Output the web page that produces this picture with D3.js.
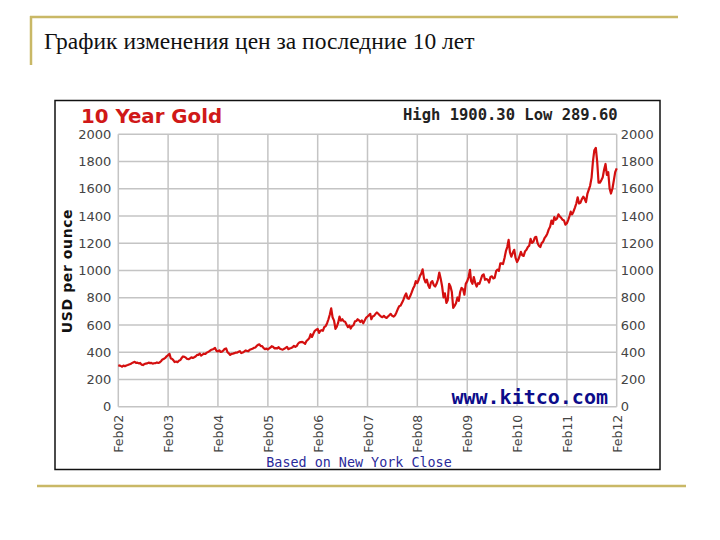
<!DOCTYPE html>
<html>
<head>
<meta charset="utf-8">
<script src="https://cdn.jsdelivr.net/npm/d3@7"></script>
<style>
  body { margin: 0; background: #fff; }
  svg { display: block; }
</style>
</head>
<body>
<div id="chart"></div>
<script>
// slide texts
var slideTitle = 'График изменения цен за последние 10 лет';
var chartTitle = '10 Year Gold';
var highLowText = 'High 1900.30 Low 289.60';
var siteText = 'www.kitco.com';
var footText = 'Based on New York Close';
var yLabel = 'USD per ounce';

// axes
var yTicks = [0, 200, 400, 600, 800, 1000, 1200, 1400, 1600, 1800, 2000];
var xTickYears = [2002, 2003, 2004, 2005, 2006, 2007, 2008, 2009, 2010, 2011, 2012];

// gold price, three readings per month (1st, 11th, 21st)
var gold2002 = [ // starts in Feb
    300, 303, 298, 294, 302, 297, 303, 306, 310, 313, 320, 325,
    330, 322, 324, 318, 321, 309, 306, 313, 316, 318, 324, 320,
    322, 316, 319, 320, 325, 321, 325, 334, 347];
var gold2003 = [
    351, 358, 370, 378, 388, 354, 352, 342, 328, 332, 327, 337,
    342, 357, 369, 366, 360, 350, 349, 354, 362, 358, 363, 369,
    380, 381, 390, 376, 382, 389, 387, 397, 402, 408, 416, 420];
var gold2004 = [
    424, 432, 410, 406, 414, 402, 404, 412, 423, 428, 400, 392,
    380, 388, 390, 393, 398, 397, 403, 408, 394, 398, 404, 413,
    410, 408, 418, 422, 425, 432, 435, 446, 454, 458, 444, 445];
var gold2005 = [
    430, 422, 427, 420, 428, 435, 444, 440, 428, 430, 428, 437,
    426, 422, 419, 425, 432, 439, 422, 427, 431, 437, 447, 439,
    447, 464, 472, 474, 476, 470, 462, 482, 492, 502, 532, 512];
var gold2006 = [
    537, 557, 565, 571, 542, 558, 562, 557, 584, 592, 613, 642,
    677, 722, 657, 632, 572, 587, 617, 662, 632, 642, 627, 624,
    602, 584, 597, 574, 592, 597, 627, 629, 642, 634, 622, 634];
var gold2007 = [
    612, 632, 652, 662, 672, 682, 642, 662, 667, 682, 692, 682,
    672, 662, 657, 667, 657, 652, 662, 672, 682, 667, 662, 670,
    692, 717, 737, 742, 762, 782, 812, 832, 797, 792, 812, 837];
var gold2008 = [
    867, 887, 922, 907, 932, 962, 977, 1008, 942, 912, 932, 892,
    872, 912, 922, 892, 882, 902, 932, 985, 942, 882, 802, 832,
    762, 782, 902, 882, 842, 725, 742, 762, 802, 777, 842, 872];
var gold2009 = [
    862, 822, 902, 922, 952, 1005, 922, 902, 952, 907, 882, 907,
    902, 932, 962, 972, 932, 937, 932, 912, 952, 957, 942, 947,
    997, 1007, 997, 1052, 1052, 1047, 1092, 1142, 1172, 1225, 1132, 1102];
var gold2010 = [
    1132, 1152, 1092, 1062, 1082, 1112, 1137, 1112, 1107, 1142, 1152, 1172,
    1182, 1232, 1202, 1212, 1242, 1247, 1202, 1182, 1172, 1202, 1212, 1237,
    1252, 1272, 1302, 1322, 1367, 1342, 1392, 1372, 1382, 1412, 1397, 1387];
var gold2011 = [
    1372, 1367, 1337, 1347, 1372, 1402, 1432, 1412, 1432, 1462, 1492, 1537,
    1492, 1497, 1522, 1542, 1527, 1502, 1562, 1592, 1622, 1682, 1802, 1882,
    1900, 1800, 1645, 1645, 1662, 1682, 1742, 1782, 1702, 1722, 1602, 1565];
var gold2012 = [ // ends in Feb
    1602, 1662, 1722, 1750];

var goldYears = [
    [2002, 1, gold2002], [2003, 0, gold2003], [2004, 0, gold2004],
    [2005, 0, gold2005], [2006, 0, gold2006], [2007, 0, gold2007],
    [2008, 0, gold2008], [2009, 0, gold2009], [2010, 0, gold2010],
    [2011, 0, gold2011], [2012, 0, gold2012]];

var sampleDays = [1, 11, 21];
var goldData = [];
goldYears.forEach(function (g) {
    g[2].forEach(function (v, i) {
        var month = g[1] + Math.floor(i / 3);
        goldData.push({ date: new Date(g[0], month, sampleDays[i % 3]), value: v });
    });
});

var width = 720;
var height = 540;
var gold = '#c9b866';

var svg = d3.select('#chart').append('svg')
    .attr('width', width)
    .attr('height', height);

// slide decoration
svg.append('line')
    .attr('x1', 30).attr('y1', 17).attr('x2', 678).attr('y2', 17)
    .attr('stroke', gold).attr('stroke-width', 2.5);
svg.append('line')
    .attr('x1', 31).attr('y1', 16).attr('x2', 31).attr('y2', 65)
    .attr('stroke', gold).attr('stroke-width', 2.5);
svg.append('line')
    .attr('x1', 37).attr('y1', 486).attr('x2', 686).attr('y2', 486)
    .attr('stroke', gold).attr('stroke-width', 2.5);

svg.append('text')
    .attr('x', 44).attr('y', 49)
    .style('font-family', '"Liberation Serif", serif')
    .style('font-size', '23.5px')
    .attr('fill', '#111')
    .text(slideTitle);

// chart frame
svg.append('rect')
    .attr('x', 55).attr('y', 100.5)
    .attr('width', 605).attr('height', 369)
    .attr('fill', '#fff')
    .attr('stroke', '#111').attr('stroke-width', 1.5);

var x = d3.scaleTime()
    .domain([new Date(2002, 1, 1), new Date(2012, 1, 1)])
    .range([118.3, 616.7]);
var y = d3.scaleLinear()
    .domain([0, 2000])
    .range([406.7, 134.3]);

// grid
svg.append('g').selectAll('line')
    .data(yTicks)
    .enter().append('line')
    .attr('x1', x.range()[0]).attr('x2', x.range()[1])
    .attr('y1', function (d) { return y(d); })
    .attr('y2', function (d) { return y(d); })
    .attr('stroke', '#c4c4c4').attr('stroke-width', 1.5);
svg.append('g').selectAll('line')
    .data(xTickYears)
    .enter().append('line')
    .attr('x1', function (d) { return x(new Date(d, 1, 1)); })
    .attr('x2', function (d) { return x(new Date(d, 1, 1)); })
    .attr('y1', y.range()[0]).attr('y2', y.range()[1])
    .attr('stroke', '#c4c4c4').attr('stroke-width', 1.5);

// y axes, both sides
var tickFont = 'DejaVu Sans, Verdana, sans-serif';
var yLeft = d3.axisLeft(y).tickValues(yTicks).tickFormat(d3.format('d')).tickSize(0).tickPadding(7);
var yRight = d3.axisRight(y).tickValues(yTicks).tickFormat(d3.format('d')).tickSize(0).tickPadding(4);
[[yLeft, x.range()[0]], [yRight, x.range()[1]]].forEach(function (a) {
    var g = svg.append('g')
        .attr('transform', 'translate(' + a[1] + ',0)')
        .call(a[0]);
    g.select('.domain').remove();
    g.selectAll('text')
        .style('font-family', tickFont)
        .style('font-size', '13px')
        .attr('fill', '#444');
});

// x axis labels, rotated
var xAxis = d3.axisBottom(x)
    .tickValues(xTickYears.map(function (d) { return new Date(d, 1, 1); }))
    .tickFormat(d3.timeFormat('Feb%y'))
    .tickSize(0);
var gx = svg.append('g')
    .attr('transform', 'translate(0,' + y.range()[0] + ')')
    .call(xAxis);
gx.select('.domain').remove();
gx.selectAll('text')
    .style('font-family', tickFont)
    .style('font-size', '12.5px')
    .attr('fill', '#444')
    .attr('text-anchor', 'end')
    .attr('dy', null)
    .attr('y', 0)
    .attr('transform', 'translate(4.5,8) rotate(-90)');

svg.append('text')
    .attr('transform', 'translate(72,271) rotate(-90)')
    .attr('text-anchor', 'middle')
    .style('font-family', tickFont)
    .style('font-size', '14px')
    .style('font-weight', 'bold')
    .style('letter-spacing', '0.6px')
    .attr('fill', '#111')
    .text(yLabel);

// price line
var line = d3.line()
    .x(function (d) { return x(d.date); })
    .y(function (d) { return y(d.value); });
svg.append('path')
    .datum(goldData)
    .attr('d', line)
    .attr('fill', 'none')
    .attr('stroke', '#d40f0f')
    .attr('stroke-width', 2.2)
    .attr('stroke-linejoin', 'round');

// headings
svg.append('text')
    .attr('x', 81).attr('y', 123)
    .style('font-family', '"DejaVu Sans", Verdana, sans-serif')
    .style('font-size', '19.8px')
    .style('font-weight', 'bold')
    .attr('fill', '#d01818')
    .text(chartTitle);
svg.append('text')
    .attr('x', 403).attr('y', 120)
    .style('font-family', '"DejaVu Sans Mono", monospace')
    .style('font-size', '15.5px')
    .style('font-weight', 'bold')
    .attr('fill', '#222')
    .text(highLowText);
svg.append('text')
    .attr('x', 608).attr('y', 404)
    .attr('text-anchor', 'end')
    .style('font-family', '"DejaVu Sans Mono", monospace')
    .style('font-size', '20px')
    .style('font-weight', 'bold')
    .attr('fill', '#0c0c8a')
    .text(siteText);
svg.append('text')
    .attr('x', 359).attr('y', 467)
    .attr('text-anchor', 'middle')
    .style('font-family', '"DejaVu Sans Mono", monospace')
    .style('font-size', '13.4px')
    .attr('fill', '#2a2a9a')
    .text(footText);
</script>
</body>
</html>
